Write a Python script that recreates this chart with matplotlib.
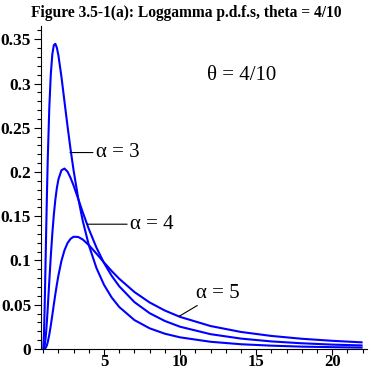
import matplotlib
matplotlib.use("Agg")
import matplotlib.pyplot as plt
from matplotlib.ticker import MultipleLocator, FormatStrFormatter

# Loggamma densities, theta = 4/10
x = [1.0, 1.05, 1.1, 1.15, 1.2, 1.25, 1.3, 1.4, 1.5, 1.6, 1.7, 1.8, 1.9, 2.0,
     2.2, 2.4, 2.6, 2.8, 3.0, 3.3, 3.6, 4.0, 4.5, 5.0, 5.5, 6.0, 7.0, 8.0,
     9.0, 10.0, 12.0, 14.0, 16.0, 18.0, 20.0, 22.0]

alpha3 = [0.0, 0.0157, 0.0508, 0.0936, 0.1372, 0.1782, 0.2147, 0.2724, 0.3107,
          0.3331, 0.3435, 0.3449, 0.3404, 0.3318, 0.3075, 0.2795, 0.2517,
          0.2255, 0.2016, 0.1705, 0.1448, 0.1173, 0.0915, 0.0724, 0.0582,
          0.0474, 0.0326, 0.0233, 0.0172, 0.0131, 0.0081, 0.0053, 0.0037,
          0.0026, 0.0020, 0.0015]

alpha4 = [0.0, 0.0006, 0.0040, 0.0109, 0.0208, 0.0331, 0.0469, 0.0764, 0.1050,
          0.1305, 0.1519, 0.1690, 0.1821, 0.1916, 0.2020, 0.2039, 0.2004,
          0.1934, 0.1846, 0.1697, 0.1545, 0.1355, 0.1146, 0.0971, 0.0827,
          0.0708, 0.0529, 0.0404, 0.0316, 0.0251, 0.0167, 0.0117, 0.0085,
          0.0064, 0.0049, 0.0039]

alpha5 = [0.0, 0.0000, 0.0002, 0.0010, 0.0024, 0.0046, 0.0077, 0.0161, 0.0266,
          0.0383, 0.0504, 0.0621, 0.0730, 0.0830, 0.0996, 0.1116, 0.1197,
          0.1245, 0.1268, 0.1266, 0.1237, 0.1174, 0.1078, 0.0977, 0.0881,
          0.0793, 0.0643, 0.0525, 0.0434, 0.0362, 0.0259, 0.0192, 0.0147,
          0.0115, 0.0092, 0.0074]

serif = ['Liberation Serif', 'DejaVu Serif']

fig = plt.figure(figsize=(3.72, 3.72), dpi=100)
ax = fig.add_axes([0.110, 0.062, 0.877, 0.868])

for ys in (alpha3, alpha4, alpha5):
    ax.plot(x, ys, color='#0000ff', linewidth=1.5, solid_capstyle='butt')

ax.set_xlim(0.85, 22.3)
ax.set_ylim(0, 0.365)

ax.spines['top'].set_visible(False)
ax.spines['right'].set_visible(False)
ax.spines['left'].set_linewidth(0.8)
ax.spines['bottom'].set_linewidth(0.8)

ax.xaxis.set_major_locator(MultipleLocator(5))
ax.xaxis.set_minor_locator(MultipleLocator(1))
ax.yaxis.set_major_locator(MultipleLocator(0.05))
ax.yaxis.set_minor_locator(MultipleLocator(0.01))
ax.yaxis.set_major_formatter(FormatStrFormatter('%g'))

ax.tick_params(which='major', direction='out', length=5, width=0.8, pad=2)
ax.tick_params(which='minor', direction='out', length=3, width=0.8)
ax.tick_params(axis='x', which='major', length=4, pad=0)
for lab in ax.get_xticklabels() + ax.get_yticklabels():
    lab.set_family(serif)
    lab.set_fontweight('bold')
    lab.set_fontsize(12.5)
for lab in ax.get_xticklabels():
    lab.set_fontsize(12)

fig.text(0.5, 0.966, 'Figure 3.5-1(a): Loggamma p.d.f.s, theta = 4/10',
         ha='center', va='center', family=serif, fontweight='bold', fontsize=11.2)

# Curve labels with leader lines
ax.annotate('α = 3', xy=(2.76, 0.222), xytext=(4.45, 0.222),
            family=serif, fontsize=15, va='center', ha='left',
            arrowprops=dict(arrowstyle='-', color='black', lw=0.8,
                            shrinkA=0, shrinkB=0))
ax.annotate('α = 4', xy=(3.88, 0.141), xytext=(6.7, 0.141),
            family=serif, fontsize=15, va='center', ha='left',
            arrowprops=dict(arrowstyle='-', color='black', lw=0.8,
                            shrinkA=0, shrinkB=0))
ax.annotate('α = 5', xy=(9.95, 0.037), xytext=(11.05, 0.063),
            family=serif, fontsize=15, va='center', ha='left',
            arrowprops=dict(arrowstyle='-', color='black', lw=0.8,
                            shrinkA=0, shrinkB=0))

ax.text(11.75, 0.309, 'θ = 4/10', family=serif, fontsize=15, va='center', ha='left')

fig.savefig('out.png', dpi=100)
